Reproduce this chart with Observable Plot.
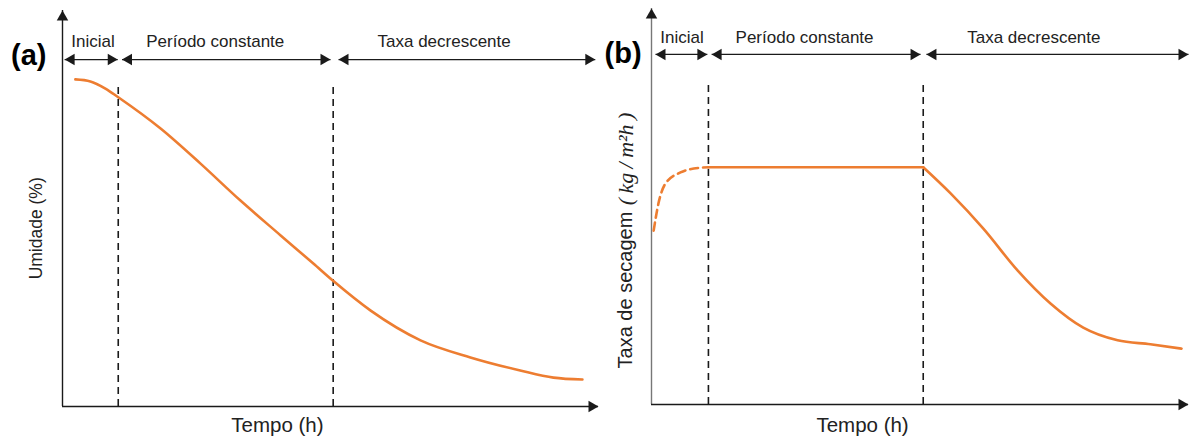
<!DOCTYPE html>
<html>
<head>
<meta charset="utf-8">
<script src="https://cdn.jsdelivr.net/npm/d3@7"></script>
<script src="https://cdn.jsdelivr.net/npm/@observablehq/plot@0.6"></script>
<style>
  html, body { margin: 0; padding: 0; background: #fff; }
  #wrap { position: relative; width: 1190px; height: 438px; overflow: hidden; }
  .panel { position: absolute; top: 0; }
</style>
</head>
<body>
<div id="wrap">
  <div class="panel" id="pa" style="left:0px"></div>
  <div class="panel" id="pb" style="left:600px"></div>
</div>
<script>
// ---- data (abstract units: time 0..100, value 0..100) ----
const phaseNames = ["Inicial", "Período constante", "Taxa decrescente"];
const phaseLabelX = [5.7, 28.5, 71.2];
const phaseStartA = [0.4, 11.1, 51.5];
const phaseEndA = [10.3, 50.0, 99.4];
const phaseStartB = [0.75, 11.2, 51.2];
const phaseEndB = [10.4, 50.1, 100];
const boundariesA = [10.4, 50.5];
const boundariesB = [10.6, 50.6];

// (a) moisture curve
const timeA = [2.4, 5.2, 8.0, 10.4, 18.3, 25.7, 33.2, 40.7, 46.8, 50.6, 57.5, 66.8, 76.1, 85.4, 91.6, 97.0];
const moistureA = [82.6, 82.1, 80.3, 78.1, 70.2, 61.4, 52.0, 43.2, 36.1, 31.6, 24.2, 16.7, 12.4, 9.1, 7.3, 6.8];

// (b) drying-rate curve: initial (dashed), constant, decreasing
const timeB0 = [0.4, 1.3, 2.6, 5.4, 9.1, 10.6];
const rateB0 = [43.9, 50.8, 55.8, 58.6, 59.8, 59.9];
const timeB1 = [10.6, 50.6];
const rateB1 = [59.9, 59.9];
const timeB2 = [50.6, 55.7, 61.8, 68.2, 74.3, 80.4, 86.8, 92.9, 98.7];
const rateB2 = [59.9, 53.3, 44.4, 33.8, 25.5, 19.4, 16.2, 15.2, 14.1];

const xDomain = [0, 100];
const yDomain = [0, 100];

const ORANGE = "#ED7D31";
const INK = "#1a1a1a";
const SANS = "'Liberation Sans', Arial, Helvetica, sans-serif";
const SERIF = "'Liberation Serif', 'DejaVu Serif', serif";
const HEAD_R = 5.5;
const HEAD_OFF = HEAD_R * Math.sqrt(Math.PI) * 0.6824; // tip distance from symbol center

const zip = (xs, ys) => xs.map((x, i) => ({x, y: ys[i]}));

function panel(cfg) {
  const phases = phaseNames.map((name, i) => ({
    name, x1: cfg.start[i], x2: cfg.end[i], lx: phaseLabelX[i]
  }));
  const leftHeads = phases.map(p => ({x: p.x1}));
  const rightHeads = phases.map(p => ({x: p.x2}));
  const marks = [
    // axes
    Plot.ruleX([xDomain[0]], {y1: yDomain[0], y2: yDomain[1], stroke: cfg.yAxisColor, strokeWidth: 1.4}),
    Plot.ruleY([yDomain[0]], {x1: xDomain[0], x2: xDomain[1], stroke: INK, strokeWidth: 1.4}),
    Plot.dot([{x: xDomain[0], y: yDomain[1]}], {x: "x", y: "y", symbol: "triangle2", r: HEAD_R, fill: INK, stroke: "none", dy: HEAD_OFF}),
    Plot.dot([{x: xDomain[1], y: yDomain[0]}], {x: "x", y: "y", symbol: "triangle2", r: HEAD_R, fill: INK, stroke: "none", rotate: 90, dx: -HEAD_OFF}),
    // phase boundaries
    Plot.ruleX(cfg.boundaries, {y1: yDomain[0], y2: cfg.dashTop, stroke: INK, strokeWidth: 1.6, strokeDasharray: "7,5"}),
    // phase arrows
    Plot.link(phases, {x1: "x1", x2: "x2", y1: cfg.arrowY, y2: cfg.arrowY, stroke: INK, strokeWidth: 1.3}),
    Plot.dot(leftHeads, {x: "x", y: cfg.arrowY, symbol: "triangle2", r: HEAD_R, fill: INK, stroke: "none", rotate: -90, dx: HEAD_OFF}),
    Plot.dot(rightHeads, {x: "x", y: cfg.arrowY, symbol: "triangle2", r: HEAD_R, fill: INK, stroke: "none", rotate: 90, dx: -HEAD_OFF}),
    Plot.text(phases, {x: "lx", y: cfg.labelY, text: "name", fontSize: 17, fill: "#222", fontFamily: SANS}),
    // panel tag
    Plot.text([cfg.tag], {x: cfg.tagX, y: cfg.tagY, text: d => d, fontSize: 29, fontWeight: "bold", fill: "#000", fontFamily: SANS}),
    // x label
    Plot.text(["Tempo (h)"], {x: cfg.xLabelX, y: cfg.xLabelY, text: d => d, fontSize: 20.5, fill: "#222", fontFamily: SANS}),
    ...cfg.extra
  ];
  return Plot.plot({
    width: cfg.width, height: 438,
    marginLeft: cfg.ml, marginRight: cfg.mr, marginTop: cfg.mt, marginBottom: cfg.mb,
    x: {domain: xDomain, axis: null},
    y: {domain: yDomain, axis: null},
    style: {fontFamily: SANS, background: "transparent", overflow: "visible"},
    marks
  });
}

const chartA = panel({
  width: 600, ml: 62, mr: 2, mt: 10, mb: 32,
  start: phaseStartA, end: phaseEndA, boundaries: boundariesA,
  arrowY: 87.6, labelY: 92.2, dashTop: 81.3, yAxisColor: INK,
  tag: "(a)", tagX: -6.3, tagY: 88.6,
  xLabelX: 40.1, xLabelY: -4.9,
  extra: [
    Plot.line(zip(timeA, moistureA), {x: "x", y: "y", stroke: ORANGE, strokeWidth: 2.6, curve: "monotone-x"}),
    Plot.text(["Umidade (%)"], {x: -4.85, y: 45, text: d => d, rotate: -90, fontSize: 17.5, fill: "#222", fontFamily: SANS})
  ]
});

const chartB = panel({
  width: 590, ml: 51, mr: 2, mt: 8, mb: 34,
  start: phaseStartB, end: phaseEndB, boundaries: boundariesB,
  arrowY: 88.4, labelY: 92.7, dashTop: 81.8, yAxisColor: "#777",
  tag: "(b)", tagX: -5.3, tagY: 88.6,
  xLabelX: 39.3, xLabelY: -5.4,
  extra: [
    Plot.line(zip(timeB0, rateB0), {x: "x", y: "y", stroke: ORANGE, strokeWidth: 2.6, strokeDasharray: "8,5", curve: "monotone-x"}),
    Plot.line(zip(timeB1, rateB1), {x: "x", y: "y", stroke: ORANGE, strokeWidth: 2.6}),
    Plot.line(zip(timeB2, rateB2), {x: "x", y: "y", stroke: ORANGE, strokeWidth: 2.6, curve: "monotone-x"}),
    Plot.text(["Taxa de secagem"], {x: -4.84, y: 9.1, text: d => d, rotate: -90, textAnchor: "start", fontSize: 20, fill: "#222", fontFamily: SANS}),
    Plot.text(["(\u2009kg\u2009/\u2009m²h\u2009)"], {x: -4.84, y: 73.7, text: d => d, rotate: -90, textAnchor: "end", fontSize: 22, fontStyle: "italic", fill: "#222", fontFamily: SERIF})
  ]
});

document.getElementById("pa").appendChild(chartA);
document.getElementById("pb").appendChild(chartB);
</script>
</body>
</html>
